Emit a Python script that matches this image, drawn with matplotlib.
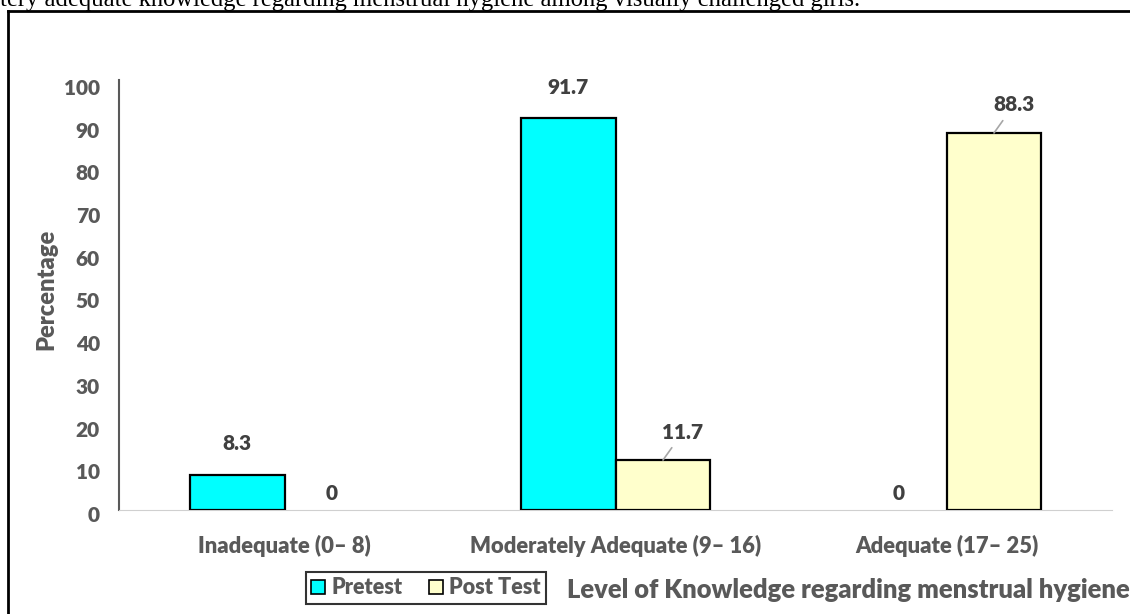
import matplotlib
matplotlib.use("Agg")
import matplotlib.pyplot as plt
import matplotlib.transforms as mtrans
from matplotlib.lines import Line2D
from matplotlib.patches import Patch
import numpy as np

categories = ["Inadequate (0\u2013 8)", "Moderately Adequate (9\u2013 16)", "Adequate (17\u2013 25)"]
pretest = [8.3, 91.7, 0]
posttest = [0, 11.7, 88.3]
series_names = ["Pretest", "Post Test"]
yticks = [0, 10, 20, 30, 40, 50, 60, 70, 80, 90, 100]

W, H = 1130, 614
fig = plt.figure(figsize=(W / 100, H / 100), dpi=100)
plt.rcParams['font.family'] = ['Lato', 'DejaVu Sans']
gray = "#595959"
dark = "#404040"
WT = "heavy"

def fx(px):
    return px / W

def fy(py):
    return 1 - py / H

ax = fig.add_axes([fx(119), fy(510), fx(1112) - fx(119), fy(83) - fy(510)])
x = np.arange(len(categories))
bw = 0.287
c1 = "#00FFFF"
c2 = "#FFFFCC"
ax.bar(x - bw / 2, pretest, bw, color=c1,
       edgecolor=["black" if v > 0 else "none" for v in pretest], linewidth=1.6, zorder=3)
ax.bar(x + bw / 2, posttest, bw, color=c2,
       edgecolor=["black" if v > 0 else "none" for v in posttest], linewidth=1.6, zorder=3)

ax.set_xlim(-0.5, 2.5)
ax.set_ylim(0, 100)
for s in ["top", "right"]:
    ax.spines[s].set_visible(False)
ax.spines["bottom"].set_color("#D0D0D0")
ax.spines["bottom"].set_linewidth(0.8)
ax.spines["left"].set_color(gray)
ax.spines["left"].set_linewidth(1.5)
ax.spines["left"].set_bounds(0, 100.7)
ax.set_yticks(yticks)
ax.set_yticklabels([str(t) for t in yticks], fontsize=15, fontweight=WT, color=gray)
ax.tick_params(axis="y", length=0, pad=13.7)
shift = mtrans.ScaledTranslation(0, -4 / 100, fig.dpi_scale_trans)
for lbl in ax.get_yticklabels():
    lbl.set_transform(lbl.get_transform() + shift)
ax.set_xticks(x)
ax.set_xticklabels(categories, fontsize=15.8, fontweight=WT, color=gray)
ax.tick_params(axis="x", length=0, pad=18)

def lab(xv, yv, text, dx, dy, leader=False):
    kw = {}
    if leader:
        kw["arrowprops"] = dict(arrowstyle="-", color="#A6A6A6", lw=1.2, shrinkA=3, shrinkB=0)
    ax.annotate(text, xy=(xv, yv), xytext=(dx, dy), textcoords="offset pixels",
                ha="center", va="center", fontsize=15, fontweight=WT, color=dark, **kw)

for i, v in enumerate(pretest):
    xc = x[i] - bw / 2
    if v == 0:
        lab(xc, v, "0", 0, 17)
    else:
        lab(xc, v, f"{v:g}", 0, 31)
for i, v in enumerate(posttest):
    xc = x[i] + bw / 2
    if v == 0:
        lab(xc, v, "0", 0, 17)
    else:
        lab(xc, v, f"{v:g}", 20, 28, leader=True)

fig.text(fx(46), fy(289), "Percentage", rotation=90, ha="center", va="center",
         fontsize=17, fontweight=WT, color=gray)

fig.text(fx(567), fy(590), "Level of Knowledge regarding menstrual hygiene", ha="left", va="center",
         fontsize=18.4, fontweight=WT, color=gray)

handles = [Patch(facecolor=c1, edgecolor="black", linewidth=1.2),
           Patch(facecolor=c2, edgecolor="black", linewidth=1.2)]
leg = fig.legend(handles, series_names, loc="center", bbox_to_anchor=(fx(426), fy(588)),
                 ncol=2, frameon=True, fancybox=False, handlelength=0.65, handleheight=0.65,
                 handletextpad=0.3, columnspacing=1.2, borderpad=0.25, borderaxespad=0,
                 prop={"size": 15.5, "weight": WT})
leg.get_frame().set_edgecolor("black")
leg.get_frame().set_linewidth(1.5)
for t in leg.get_texts():
    t.set_color(gray)

fig.add_artist(Line2D([fx(8), fx(8)], [fy(11), 0], color="black", lw=2, transform=fig.transFigure))
fig.add_artist(Line2D([fx(8), 1], [fy(11), fy(11)], color="black", lw=2, transform=fig.transFigure))

fig.text(0, fy(6), "tery adequate knowledge regarding menstrual hygiene among visually challenged girls.",
         ha="left", va="baseline", fontsize=17.7, family="Liberation Serif", color="black")

fig.savefig("out.png", dpi=100)
